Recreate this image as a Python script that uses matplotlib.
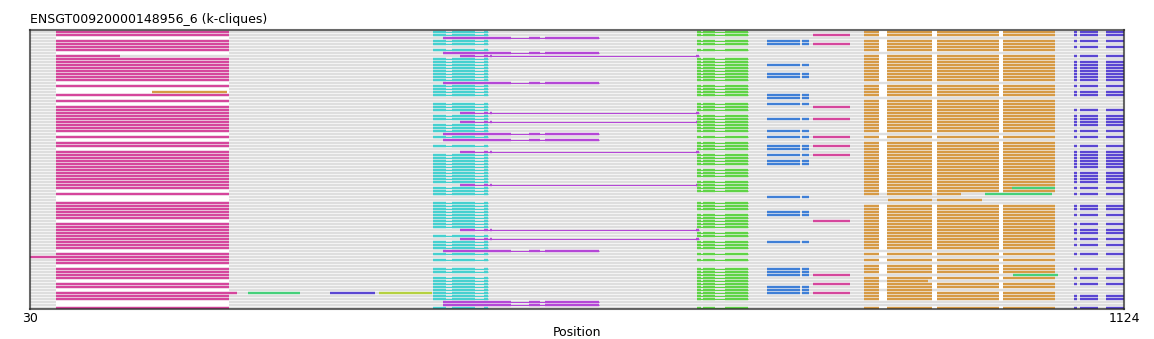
import matplotlib.pyplot as plt

title = "ENSGT00920000148956_6 (k-cliques)"
x_min, x_max = 30, 1124

# colours of the k-clique blocks
magenta = "#d5469c"
cyan = "#46d0cf"
purple = "#b447d6"
green = "#5fd346"
blue = "#3f7fd6"
orange = "#d69a45"
violet = "#5a46d2"
emerald = "#45d07a"
lime = "#b5d13f"
grey = "#dedede"

# thick pieces of each block, plus the span of its thin connector (None = no connector)
magenta_parts = [(56, 229)]
magenta_short_parts = [(56, 120)]
magenta_wide_parts = [(30, 229)]
cyan_parts = [(433, 446), (452, 475), (484, 488)]
purple_short_parts = [(443, 511), (529, 540), (545, 599)]
purple_long_parts = [(460, 475), (484, 488), (490, 492), (696, 699)]
green_parts = [(697, 701), (703, 715), (725, 748)]
blue_parts = [(767, 800), (802, 809)]
pink_parts = [(813, 850)]
orange_parts = [(864, 879), (887, 932), (937, 999), (1003, 1055)]
violet_parts = [(1074, 1077), (1080, 1098), (1106, 1124)]

blocks = {
    "M": (magenta, magenta_parts, None),
    "m": (magenta, magenta_short_parts, None),
    "W": (magenta, magenta_wide_parts, None),
    "C": (cyan, cyan_parts, (433, 488)),
    "S": (purple, purple_short_parts, (443, 599)),
    "L": (purple, purple_long_parts, (460, 699)),
    "G": (green, green_parts, (697, 748)),
    "B": (blue, blue_parts, None),
    "P": (magenta, pink_parts, None),
    "O": (orange, orange_parts, None),
    "V": (violet, violet_parts, None),
}

# block membership of every sequence, top to bottom
rows = [
    "MCGOV", "MCGPOV", "S", "MCGBOV", "MCGBPO", "MOV", "MCGO", "S",
    "mLOV", "MCGO", "MCGOV", "MCGBOV", "MCGOV", "MCGOV", "MCGBOV", "MCGBOV",
    "MCGOV", "S", "MCGOV", "CGO", "CGOV", "MCGBOV", "B", "MO",
    "CGBO", "MCGPO", "MCGOV", "MLO", "MCGOV", "MCGBPOV", "MLGOV", "MCGOV",
    "MCGO", "MCGBOV", "S", "MCGBPOV", "S", "MGO", "MCGBPOV", "GBO",
    "MLOV", "MCGBPOV", "MCGOV", "MCGBOV", "MCGBOV", "MCOV", "MCGO", "MCGOV",
    "MCGOV", "MCOV", "MCGOV", "MLGO", "MCGOV", "CGO", "MCV", "B",
    "", "MCG", "MCGOV", "MCGOV", "MCBO", "MCGBOV", "MCGO", "CGPO",
    "MCGOV", "MCGO", "MLOV", "MGOV", "MCGO", "MLOV", "MCGBO", "MCGOV",
    "MCGO", "S", "MCGOV", "W", "MCGO", "M", "O", "MCGBOV",
    "MCGBO", "MGBP", "MCGOV", "CG", "MCGPOV", "MCGBO", "CGB", "MCGBPO",
    "MCGOV", "MCGOV", "S", "S", "MCGOV",
]

# single segments outside the regular blocks: (row, start, end, colour)
extra_segments = [
    (20, 152, 227, orange),
    (52, 1012, 1055, emerald),
    (54, 864, 879, orange), (54, 887, 932, orange), (54, 937, 961, orange),
    (54, 985, 1052, emerald),
    (56, 888, 932, orange), (56, 937, 982, orange),
    (81, 1013, 1058, emerald),
    (83, 864, 879, orange), (83, 887, 928, orange),
    (86, 864, 879, orange), (86, 887, 932, orange),
    (87, 229, 237, magenta),
    (87, 248, 300, emerald), (87, 330, 375, violet), (87, 379, 432, lime),
]


def subtract(span, holes):
    pieces = [span]
    for h0, h1 in holes:
        out = []
        for a, b in pieces:
            if h1 <= a or h0 >= b:
                out.append((a, b))
                continue
            if h0 > a:
                out.append((a, h0))
            if h1 < b:
                out.append((h1, b))
        pieces = out
    return pieces


fig = plt.figure(figsize=(11.54, 3.39), dpi=100)
ax = fig.add_axes([30 / 1154, 30 / 339, 1094 / 1154, 279 / 339])

thick = 1.7
thin = 0.8

for i, code in enumerate(rows):
    holes = []
    if not any(c in code for c in "MmW"):
        holes.append((56, 229))
    if "O" in code:
        holes += [(879, 887), (932, 937), (999, 1003)]
    for a, b in subtract((x_min, x_max), holes):
        ax.hlines(i, a, b, colors=grey, linewidth=thick, capstyle="butt", zorder=1)

    for c in code:
        color, parts, link = blocks[c]
        if link is not None:
            ax.hlines(i, link[0], link[1], colors=color, linewidth=thin,
                      capstyle="butt", zorder=2)
        for a, b in parts:
            ax.hlines(i, a, b, colors=color, linewidth=thick, capstyle="butt", zorder=3)

for i, a, b, color in extra_segments:
    ax.hlines(i, a, b, colors=color, linewidth=thick, capstyle="butt", zorder=3)

n = len(rows)
ax.set_xlim(x_min, x_max)
ax.set_ylim(n - 0.67, -0.67)
ax.set_yticks([])
ax.set_xticks([x_min, x_max])
ax.set_xticklabels([str(x_min), str(x_max)])
ax.tick_params(axis="x", length=0, pad=2, labelsize=9)
ax.set_xlabel("Position", fontsize=9, labelpad=1)
ax.set_title(title, loc="left", fontsize=9, pad=5)

for s in ax.spines.values():
    s.set_color((0.16, 0.16, 0.16, 0.7))
    s.set_linewidth(1.5)
    s.set_zorder(5)

fig.savefig("out.png", dpi=100)
